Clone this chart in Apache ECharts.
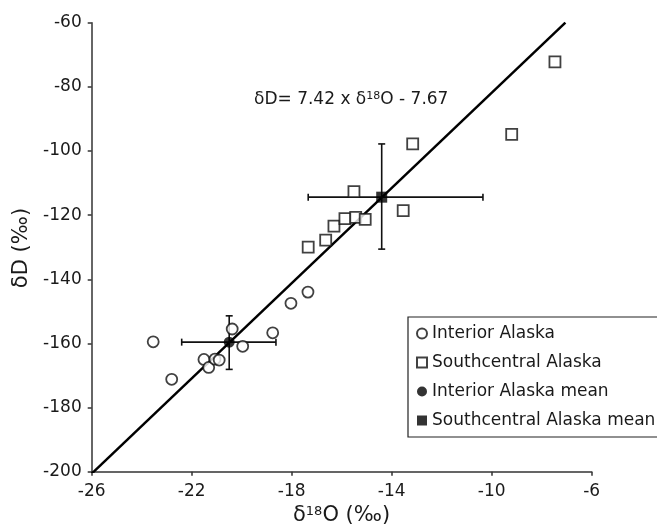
<!DOCTYPE html>
<html>
<head>
<meta charset="utf-8">
<script src="https://cdn.jsdelivr.net/npm/echarts@6/dist/echarts.min.js"></script>
<style>
html,body{margin:0;padding:0;background:#fff;}
#chart{width:657px;height:529px;}
</style>
</head>
<body>
<div id="chart"></div>
<script>
// ---- data ----
const interiorX = [-23.54, -22.80, -21.51, -21.32, -21.07, -20.90, -20.38, -19.96, -18.76, -18.03, -17.35];
const interiorY = [-159.5, -171.2, -165.0, -167.5, -164.9, -165.2, -155.5, -160.9, -156.7, -147.5, -144.0];
const southX = [-17.34, -16.64, -16.31, -15.87, -15.44, -15.06, -15.51, -13.54, -13.16, -9.20, -7.47];
const southY = [-130.0, -127.8, -123.4, -121.1, -120.7, -121.3, -112.7, -118.6, -97.8, -94.8, -72.2];
const interiorMean = [-20.5, -159.6];
const interiorErrX = [-22.4, -18.63];
const interiorErrY = [-168.1, -151.4];
const southMean = [-14.4, -114.4];
const southErrX = [-17.34, -10.35];
const southErrY = [-130.6, -97.8];
const slope = 7.42, intercept = -7.67;
const lineXStart = -26, lineYEnd = -60;
const xTicks = [-26, -6, 4];   // min, max, interval
const yTicks = [-200, -60, 20];
const legendNames = ['Interior Alaska', 'Southcentral Alaska', 'Interior Alaska mean', 'Southcentral Alaska mean'];

// ---- build ----
const zip = (a, b) => a.map((v, i) => [v, b[i]]);
const lineXEnd = (lineYEnd - intercept) / slope;
const regLine = [[lineXStart, slope * lineXStart + intercept], [lineXEnd, slope * lineXEnd + intercept]];
const errData = [
  [interiorMean[0], interiorMean[1], interiorErrX[0], interiorErrX[1], interiorErrY[0], interiorErrY[1]],
  [southMean[0], southMean[1], southErrX[0], southErrX[1], southErrY[0], southErrY[1]]
];
const FONT = 'DejaVu Sans';
const TXT = '#1a1a1a';

const chart = echarts.init(document.getElementById('chart'), null, {renderer: 'canvas'});
chart.setOption({
  animation: false,
  backgroundColor: '#fff',
  grid: {left: 91.7, right: 65.3, top: 22.7, bottom: 57.3, containLabel: false},
  xAxis: {
    type: 'value', min: xTicks[0], max: xTicks[1], interval: xTicks[2],
    splitLine: {show: false},
    axisLine: {show: true, onZero: false, lineStyle: {color: '#333', width: 1.5}},
    axisTick: {show: true, length: 4, lineStyle: {color: '#333', width: 1.5}},
    axisLabel: {color: TXT, fontFamily: FONT, fontSize: 17, margin: 11}
  },
  yAxis: {
    type: 'value', min: yTicks[0], max: yTicks[1], interval: yTicks[2],
    splitLine: {show: false},
    axisLine: {show: true, onZero: false, lineStyle: {color: '#333', width: 1.5}},
    axisTick: {show: true, length: 4, lineStyle: {color: '#333', width: 1.5}},
    axisLabel: {color: TXT, fontFamily: FONT, fontSize: 17, margin: 10}
  },
  legend: {
    left: 408, top: 317,
    orient: 'vertical',
    data: [
      {name: legendNames[0], icon: 'circle'},
      {name: legendNames[1], icon: 'rect'},
      {name: legendNames[2], icon: 'circle'},
      {name: legendNames[3], icon: 'rect'}
    ],
    itemWidth: 10, itemHeight: 10, itemGap: 12,
    padding: [8, 14, 8, 8],
    borderColor: '#222', borderWidth: 1.2, borderRadius: 0,
    backgroundColor: '#fff',
    textStyle: {color: TXT, fontFamily: FONT, fontSize: 17}
  },
  graphic: [
    {
      type: 'text', left: 254, top: 91, z: 10,
      style: {
        text: '{a|δD= 7.42 x δ}{s|18}{a|O - 7.67}',
        rich: {
          a: {fontFamily: FONT, fontSize: 17, fill: TXT},
          s: {fontFamily: FONT, fontSize: 11, fill: TXT, padding: [0, 0, 7, 0]}
        }
      }
    },
    {
      type: 'text', left: 293, top: 505, z: 10,
      style: {
        text: '{a|δ}{s|18}{a|O (‰)}',
        rich: {
          a: {fontFamily: FONT, fontSize: 21, fill: TXT},
          s: {fontFamily: FONT, fontSize: 13, fill: TXT, padding: [0, 0, 9, 0]}
        }
      }
    },
    {
      type: 'text', x: 22, y: 248, rotation: Math.PI / 2, z: 10,
      style: {text: 'δD (‰)', fontFamily: FONT, fontSize: 21, fill: TXT, align: 'center', verticalAlign: 'middle'}
    }
  ],
  series: [
    {
      type: 'line', data: regLine, symbol: 'none', z: 1,
      lineStyle: {color: '#000', width: 2.5}, silent: true
    },
    {
      type: 'custom', z: 2, silent: true,
      encode: {x: [0, 2, 3], y: [1, 4, 5]},
      data: errData,
      renderItem: function (params, api) {
        const cx = api.value(0), cy = api.value(1);
        const xl = api.coord([api.value(2), cy]);
        const xr = api.coord([api.value(3), cy]);
        const yb = api.coord([cx, api.value(4)]);
        const yt = api.coord([cx, api.value(5)]);
        const c = 3.5;
        const st = {stroke: '#111', lineWidth: 1.6};
        const L = (x1, y1, x2, y2) => ({type: 'line', shape: {x1, y1, x2, y2}, style: st});
        return {type: 'group', children: [
          L(xl[0], xl[1], xr[0], xr[1]),
          L(xl[0], xl[1] - c, xl[0], xl[1] + c),
          L(xr[0], xr[1] - c, xr[0], xr[1] + c),
          L(yb[0], yb[1], yt[0], yt[1]),
          L(yb[0] - c, yb[1], yb[0] + c, yb[1]),
          L(yt[0] - c, yt[1], yt[0] + c, yt[1])
        ]};
      }
    },
    {
      name: legendNames[0], type: 'scatter', z: 3,
      data: zip(interiorX, interiorY), symbol: 'circle', symbolSize: 11,
      itemStyle: {color: '#fff', borderColor: '#111', borderWidth: 1.8}
    },
    {
      name: legendNames[1], type: 'scatter', z: 3,
      data: zip(southX, southY), symbol: 'rect', symbolSize: 11,
      itemStyle: {color: '#fff', borderColor: '#111', borderWidth: 1.8}
    },
    {
      name: legendNames[2], type: 'scatter', z: 4,
      data: [interiorMean], symbol: 'circle', symbolSize: 11,
      itemStyle: {color: '#000', borderColor: '#000', borderWidth: 0}
    },
    {
      name: legendNames[3], type: 'scatter', z: 4,
      data: [southMean], symbol: 'rect', symbolSize: 11,
      itemStyle: {color: '#000', borderColor: '#000', borderWidth: 0}
    }
  ]
});
</script>
</body>
</html>
